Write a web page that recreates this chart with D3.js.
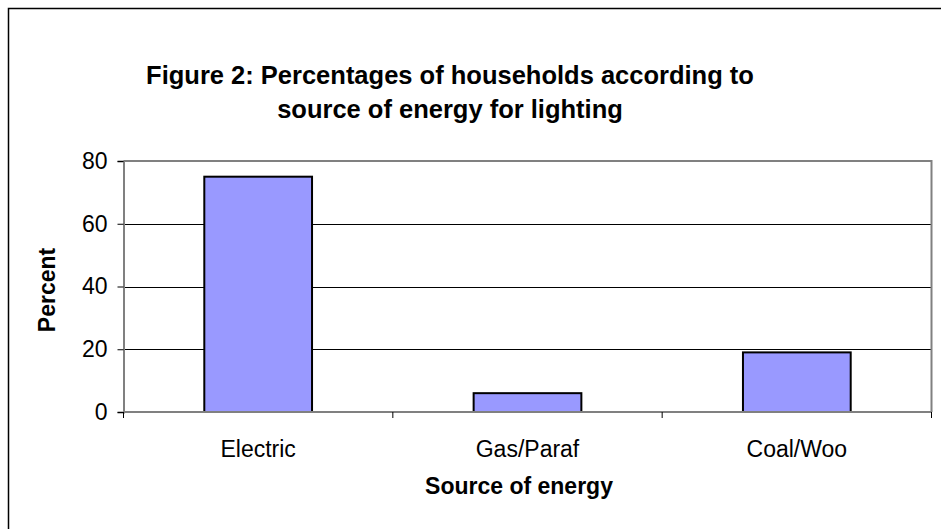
<!DOCTYPE html>
<html><head><meta charset="utf-8">
<script src="https://cdn.jsdelivr.net/npm/d3@7"></script>
<style>body{margin:0;background:#fff}svg{display:block;font-family:Arial,"Liberation Sans",sans-serif}</style>
</head><body><svg id="c" width="941" height="529"></svg>
<script>
const categories = ["Electric", "Gas/Paraf", "Coal/Woo"];
const values = [75, 6, 19];
const yTicks = [0, 20, 40, 60, 80];
const titleLines = ["Figure 2: Percentages of households according to", "source of energy for lighting"];
const xTitle = "Source of energy";
const yTitle = "Percent";

const svg = d3.select("#c");
const L = 123.5, R = 931.5, T = 161, B = 412;
// outer frame
svg.append("rect").attr("x", 8.5).attr("y", 8.5).attr("width", 960).attr("height", 560)
  .attr("fill", "#fff").attr("stroke", "#000").attr("stroke-width", 1.5);

const x = d3.scaleBand().domain(categories).range([L, R]).paddingInner(0.6).paddingOuter(0.3);
const y = d3.scaleLinear().domain([0, 80]).range([B, T]);

// gridlines
svg.append("g").selectAll("line").data(yTicks.filter(t => t > 0 && t < 80)).join("line")
  .attr("x1", L).attr("x2", R).attr("y1", d => Math.round(y(d)) + 0.5).attr("y2", d => Math.round(y(d)) + 0.5)
  .attr("stroke", "#000").attr("stroke-width", 1);
// plot border top/right
svg.append("path").attr("d", `M${L},${T}H${R}V${B}`).attr("fill", "none").attr("stroke", "#808080").attr("stroke-width", 2);

// bars
svg.append("g").selectAll("rect").data(values).join("rect")
  .attr("x", (d, i) => x(categories[i])).attr("width", x.bandwidth())
  .attr("y", d => y(d)).attr("height", d => y(0) - y(d))
  .attr("fill", "#9999FF").attr("stroke", "#000").attr("stroke-width", 2);

// y axis
const ya = svg.append("g").attr("transform", `translate(${L},0)`)
  .call(d3.axisLeft(y).tickValues(yTicks).tickSize(6).tickPadding(10));
ya.select(".domain").attr("stroke", "#808080").attr("stroke-width", 2);
ya.selectAll(".tick line").attr("stroke", "#000");
ya.selectAll(".tick text").attr("font-size", 23).attr("fill", "#000").attr("font-family", "Arial, 'Liberation Sans', sans-serif");

// x axis
const boundaries = [L, ...categories.slice(1).map(c => x(c) - x.step() * x.paddingInner() / 2), R];
svg.append("line").attr("x1", L).attr("x2", R).attr("y1", B).attr("y2", B).attr("stroke", "#808080").attr("stroke-width", 2);
svg.append("g").selectAll("line").data(boundaries).join("line")
  .attr("x1", d => d).attr("x2", d => d).attr("y1", B).attr("y2", B + 6).attr("stroke", "#000");
svg.append("g").selectAll("text").data(categories).join("text")
  .attr("x", d => x(d) + x.bandwidth() / 2).attr("y", 457).attr("text-anchor", "middle")
  .attr("font-size", 23).text(d => d);

// titles
svg.append("g").selectAll("text").data(titleLines).join("text")
  .attr("x", 450).attr("y", (d, i) => 84 + i * 34).attr("text-anchor", "middle")
  .attr("font-size", 25.5).attr("font-weight", "bold").text(d => d);
svg.append("text").attr("x", 519).attr("y", 494).attr("text-anchor", "middle")
  .attr("font-size", 23).attr("font-weight", "bold").text(xTitle);
svg.append("text").attr("transform", `translate(55,290) rotate(-90)`).attr("text-anchor", "middle")
  .attr("font-size", 23).attr("font-weight", "bold").text(yTitle);
</script></body></html>
